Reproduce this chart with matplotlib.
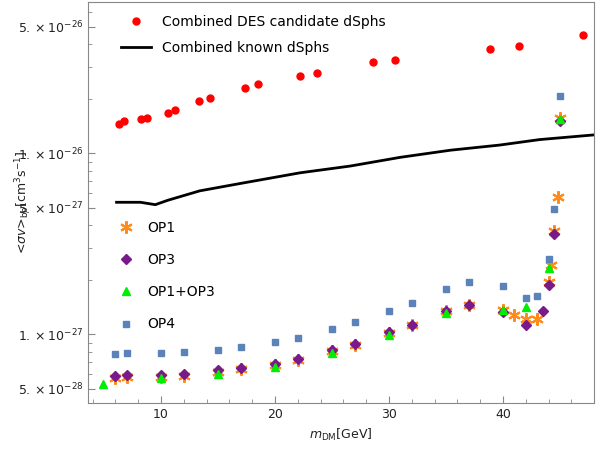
import numpy as np
import matplotlib.pyplot as plt
from matplotlib.ticker import FixedLocator, NullFormatter

# Combined DES candidate dSphs
des_x = [6.3, 6.75, 8.25, 8.8, 10.6, 11.2, 13.3, 14.3, 17.4, 18.5, 22.2, 23.7, 28.6, 30.5, 38.9, 41.4, 47.0]
des_y = [1.46e-26, 1.50e-26, 1.54e-26, 1.56e-26, 1.66e-26, 1.73e-26, 1.94e-26, 2.01e-26, 2.29e-26, 2.40e-26,
         2.66e-26, 2.77e-26, 3.18e-26, 3.26e-26, 3.75e-26, 3.90e-26, 4.49e-26]

# Combined known dSphs
known_x = [6.1, 8.2, 9.5, 10.6, 13.4, 16.9, 22.2, 26.6, 31.0, 35.4, 39.7, 43.2, 48.4]
known_y = [5.36e-27, 5.36e-27, 5.2e-27, 5.5e-27, 6.2e-27, 6.8e-27, 7.8e-27, 8.5e-27, 9.5e-27, 1.04e-26,
           1.11e-26, 1.19e-26, 1.27e-26]

# OP series, in units of 1e-27
op1_x = [6, 7, 10, 12, 15, 17, 20, 22, 25, 27, 30, 32, 35, 37, 40, 41, 42, 43, 44, 44.2, 44.5, 44.8, 45]
op1_y = [0.575, 0.583, 0.583, 0.59, 0.62, 0.64, 0.675, 0.72, 0.81, 0.875, 1.02, 1.12, 1.34, 1.45,
         1.37, 1.27, 1.21, 1.22, 1.94, 2.41, 3.71, 5.7, 15.6]

op3_x = [6, 7, 10, 12, 15, 17, 20, 22, 25, 27, 30, 32, 35, 37, 40, 42, 43.5, 44, 44.5, 45]
op3_y = [0.586, 0.594, 0.594, 0.601, 0.632, 0.649, 0.683, 0.728, 0.816, 0.88, 1.026, 1.12, 1.34, 1.45,
         1.32, 1.12, 1.34, 1.87, 3.57, 15.0]

op13_x = [4.9, 10, 15, 20, 25, 30, 35, 40, 42, 44, 45]
op13_y = [0.53, 0.57, 0.60, 0.66, 0.785, 0.99, 1.31, 1.37, 1.41, 2.32, 15.4]

op4_x = [6, 7, 10, 12, 15, 17, 20, 22, 25, 27, 30, 32, 35, 37, 40, 42, 43, 44, 44.5, 45]
op4_y = [0.775, 0.785, 0.785, 0.795, 0.816, 0.848, 0.903, 0.95, 1.066, 1.165, 1.34, 1.48, 1.77, 1.94,
         1.84, 1.58, 1.62, 2.60, 4.90, 20.7]

fig = plt.figure(figsize=(5.99, 4.5), dpi=100)
ax = fig.add_axes([0.147, 0.104, 0.845, 0.891])

s = 1e-27
star = (6, 2, 0)
h1, = ax.plot(des_x, des_y, 'o', color='#ff0000', ms=5, ls='none')
h2, = ax.plot(known_x, known_y, '-', color='black', lw=2)
h3, = ax.plot(op1_x, np.array(op1_y) * s, marker=star, color='#ff8c1a', ms=9, mew=1.5, ls='none')
h4, = ax.plot(op3_x, np.array(op3_y) * s, 'D', color='#7a1a8a', ms=5, ls='none')
h5, = ax.plot(op13_x, np.array(op13_y) * s, '^', color='#00ee00', ms=6, ls='none')
h6, = ax.plot(op4_x, np.array(op4_y) * s, 's', color='#5b82b9', ms=5, ls='none')

ax.set_yscale('log')
ax.set_xlim(3.6, 48.0)
ax.set_ylim(4.16e-28, 6.83e-26)

ax.set_xticks([10, 20, 30, 40])
ax.xaxis.set_minor_locator(FixedLocator(np.arange(4, 48, 2)))
ax.set_yticks([5e-28, 1e-27, 5e-27, 1e-26, 5e-26])
ax.set_yticklabels([r'$5.\times10^{-28}$', r'$1.\times10^{-27}$', r'$5.\times10^{-27}$',
                    r'$1.\times10^{-26}$', r'$5.\times10^{-26}$'])
ax.yaxis.set_minor_formatter(NullFormatter())
for sp in ax.spines.values():
    sp.set_color('#888888')
ax.tick_params(which='both', direction='in', colors='#888888', labelcolor='#222222', labelsize=9)
ax.tick_params(which='major', length=5)
ax.tick_params(which='minor', length=3)

ax.set_xlabel(r'$m_{\rm DM}$[GeV]', fontsize=9, color='#222222')
ax.set_ylabel(r'<$\sigma v$>$_{\rm bb}$[cm$^3$s$^{-1}$]', fontsize=9, color='#222222')
ax.yaxis.set_label_coords(-0.11, 0.5)

leg1 = ax.legend([h1, h2], ['Combined DES candidate dSphs', 'Combined known dSphs'],
                 loc='upper left', bbox_to_anchor=(0.04, 1.0), frameon=False, fontsize=10,
                 handlelength=2.2, labelspacing=0.9)
ax.add_artist(leg1)
ax.legend([h3, h4, h5, h6], ['OP1', 'OP3', 'OP1+OP3', 'OP4'],
          loc='upper left', bbox_to_anchor=(0.03, 0.485), frameon=False, fontsize=10,
          handlelength=1.5, labelspacing=1.3)

fig.savefig('out.png', dpi=100)
